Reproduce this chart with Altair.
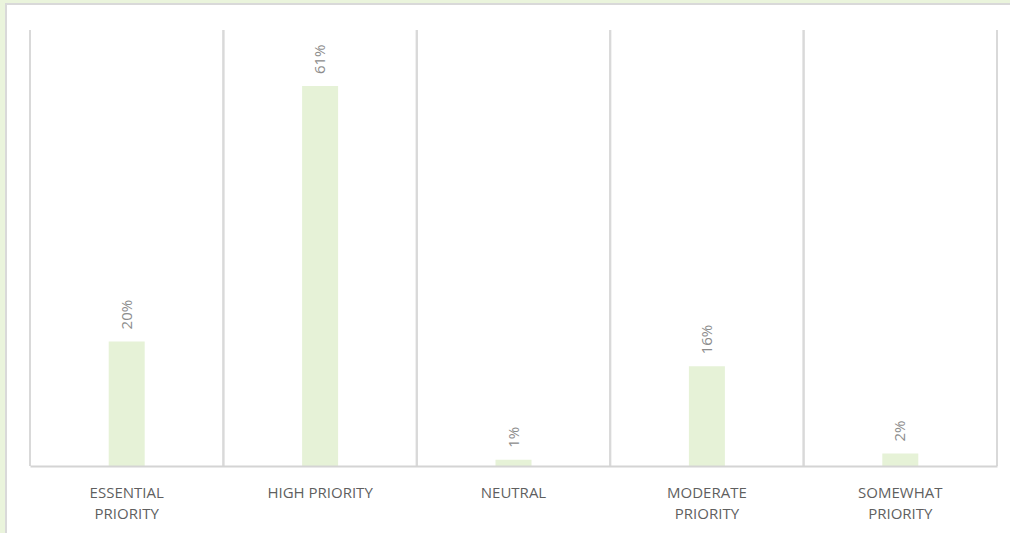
import altair as alt
import pandas as pd

categories = ["ESSENTIAL PRIORITY", "HIGH PRIORITY", "NEUTRAL", "MODERATE PRIORITY", "SOMEWHAT PRIORITY"]
label_lines = [["ESSENTIAL", "PRIORITY"], ["HIGH PRIORITY"], ["NEUTRAL"], ["MODERATE", "PRIORITY"], ["SOMEWHAT", "PRIORITY"]]
values = [20, 61, 1, 16, 2]
value_labels = ["20%", "61%", "1%", "16%", "2%"]

df = pd.DataFrame({"cat": categories, "value": values, "label": value_labels})

W, H = 967, 436
FONT = "Open Sans"

mapping = "{" + ", ".join(
    "'" + c + "': [" + ", ".join("'" + l + "'" for l in lines) + "]"
    for c, lines in zip(categories, label_lines)
) + "}"

x_enc = alt.X(
    "cat:N",
    sort=categories,
    scale=alt.Scale(paddingInner=0, paddingOuter=0),
    axis=alt.Axis(
        title=None,
        labelExpr=mapping + "[datum.value]",
        labelAngle=0,
        labelAlign="center",
        labelFont=FONT,
        labelFontSize=15,
        labelColor="#5f5f5f",
        labelPadding=26,
        labelLineHeight=21,
        labelBaseline="middle",
        ticks=False,
        domain=True,
        domainColor="#d4d4d4",
        domainWidth=2,
        grid=False,
        zindex=1,
    ),
)
y_enc = alt.Y("value:Q", scale=alt.Scale(domain=[0, 70]), axis=None)

bg = alt.Chart(df).mark_rect(fill="white", stroke="#d9d9d9", strokeWidth=2).encode(
    x=alt.value(-24), x2=alt.value(1100), y=alt.value(-26), y2=alt.value(600)
)

bars = alt.Chart(df).mark_bar(size=36, color="#e6f2d7").encode(x=x_enc, y=y_enc)

left_rules = alt.Chart(df).mark_rule(color="#d9d9d9", strokeWidth=2).encode(
    x=alt.X("cat:N", sort=categories, bandPosition=0),
    y=alt.value(0),
    y2=alt.value(H),
)
right_rules = alt.Chart(df).mark_rule(color="#d9d9d9", strokeWidth=2).encode(
    x=alt.X("cat:N", sort=categories, bandPosition=1),
    y=alt.value(0),
    y2=alt.value(H),
)

text = alt.Chart(df).mark_text(
    angle=270, align="left", baseline="middle", dx=12, font=FONT, fontSize=15, color="#8c8c8c"
).encode(x=alt.X("cat:N", sort=categories), y=y_enc, text="label:N")

chart = alt.layer(bg, left_rules, right_rules, bars, text).properties(
    width=W,
    height=H,
    autosize=alt.AutoSizeParams(type="none"),
    padding={"left": 30, "top": 30, "right": 13, "bottom": 67},
    background="#eaf4dc",
).configure_view(stroke=None)

chart.save("out.html", embed_options={"renderer": "svg", "actions": False})
